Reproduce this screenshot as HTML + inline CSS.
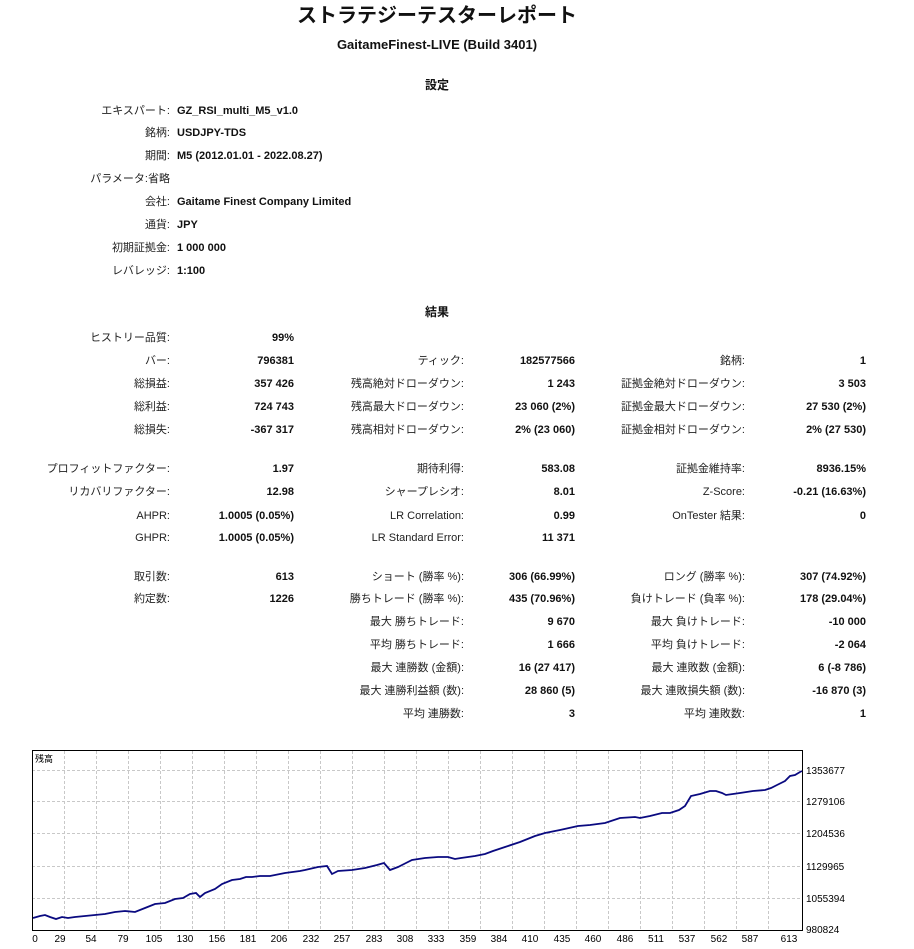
<!DOCTYPE html>
<html><head><meta charset="utf-8">
<style>
body{margin:0;width:914px;height:949px;background:#fff;position:relative;overflow:hidden;font-family:"Liberation Sans","Noto Sans CJK JP",sans-serif;font-size:11px;color:#222}
.t{position:absolute;white-space:nowrap;line-height:14px}
.b{font-weight:bold;color:#111}
.l1{right:744px}.v1{right:620px}
.l2{right:450px}.v2{right:339px}
.l3{right:169px}.v3{right:48px}
</style></head><body>
<div class="t b" style="left:0;width:874px;text-align:center;top:4px;font-size:20px;line-height:24px">ストラテジーテスターレポート</div>
<div class="t b" style="left:0;width:874px;text-align:center;top:38px;font-size:13px">GaitameFinest-LIVE (Build 3401)</div>
<div class="t b" style="left:0;width:874px;text-align:center;top:78px;font-size:12px">設定</div>

<div class="t l1" style="top:104px">エキスパート:</div><div class="t b" style="left:177px;top:104px">GZ_RSI_multi_M5_v1.0</div>
<div class="t l1" style="top:126px">銘柄:</div><div class="t b" style="left:177px;top:126px">USDJPY-TDS</div>
<div class="t l1" style="top:149px">期間:</div><div class="t b" style="left:177px;top:149px">M5 (2012.01.01 - 2022.08.27)</div>
<div class="t l1" style="top:172px">パラメータ:省略</div>
<div class="t l1" style="top:195px">会社:</div><div class="t b" style="left:177px;top:195px">Gaitame Finest Company Limited</div>
<div class="t l1" style="top:218px">通貨:</div><div class="t b" style="left:177px;top:218px">JPY</div>
<div class="t l1" style="top:241px">初期証拠金:</div><div class="t b" style="left:177px;top:241px">1 000 000</div>
<div class="t l1" style="top:264px">レバレッジ:</div><div class="t b" style="left:177px;top:264px">1:100</div>

<div class="t b" style="left:0;width:874px;text-align:center;top:305px;font-size:12px">結果</div>

<div class="t l1" style="top:331px">ヒストリー品質:</div><div class="t b v1" style="top:331px">99%</div>
<div class="t l1" style="top:354px">バー:</div><div class="t b v1" style="top:354px">796381</div>
<div class="t l2" style="top:354px">ティック:</div><div class="t b v2" style="top:354px">182577566</div>
<div class="t l3" style="top:354px">銘柄:</div><div class="t b v3" style="top:354px">1</div>
<div class="t l1" style="top:377px">総損益:</div><div class="t b v1" style="top:377px">357 426</div>
<div class="t l2" style="top:377px">残高絶対ドローダウン:</div><div class="t b v2" style="top:377px">1 243</div>
<div class="t l3" style="top:377px">証拠金絶対ドローダウン:</div><div class="t b v3" style="top:377px">3 503</div>
<div class="t l1" style="top:400px">総利益:</div><div class="t b v1" style="top:400px">724 743</div>
<div class="t l2" style="top:400px">残高最大ドローダウン:</div><div class="t b v2" style="top:400px">23 060 (2%)</div>
<div class="t l3" style="top:400px">証拠金最大ドローダウン:</div><div class="t b v3" style="top:400px">27 530 (2%)</div>
<div class="t l1" style="top:423px">総損失:</div><div class="t b v1" style="top:423px">-367 317</div>
<div class="t l2" style="top:423px">残高相対ドローダウン:</div><div class="t b v2" style="top:423px">2% (23 060)</div>
<div class="t l3" style="top:423px">証拠金相対ドローダウン:</div><div class="t b v3" style="top:423px">2% (27 530)</div>

<div class="t l1" style="top:462px">プロフィットファクター:</div><div class="t b v1" style="top:462px">1.97</div>
<div class="t l2" style="top:462px">期待利得:</div><div class="t b v2" style="top:462px">583.08</div>
<div class="t l3" style="top:462px">証拠金維持率:</div><div class="t b v3" style="top:462px">8936.15%</div>
<div class="t l1" style="top:485px">リカバリファクター:</div><div class="t b v1" style="top:485px">12.98</div>
<div class="t l2" style="top:485px">シャープレシオ:</div><div class="t b v2" style="top:485px">8.01</div>
<div class="t l3" style="top:485px">Z-Score:</div><div class="t b v3" style="top:485px">-0.21 (16.63%)</div>
<div class="t l1" style="top:509px">AHPR:</div><div class="t b v1" style="top:509px">1.0005 (0.05%)</div>
<div class="t l2" style="top:509px">LR Correlation:</div><div class="t b v2" style="top:509px">0.99</div>
<div class="t l3" style="top:509px">OnTester 結果:</div><div class="t b v3" style="top:509px">0</div>
<div class="t l1" style="top:531px">GHPR:</div><div class="t b v1" style="top:531px">1.0005 (0.05%)</div>
<div class="t l2" style="top:531px">LR Standard Error:</div><div class="t b v2" style="top:531px">11 371</div>

<div class="t l1" style="top:570px">取引数:</div><div class="t b v1" style="top:570px">613</div>
<div class="t l2" style="top:570px">ショート (勝率 %):</div><div class="t b v2" style="top:570px">306 (66.99%)</div>
<div class="t l3" style="top:570px">ロング (勝率 %):</div><div class="t b v3" style="top:570px">307 (74.92%)</div>
<div class="t l1" style="top:592px">約定数:</div><div class="t b v1" style="top:592px">1226</div>
<div class="t l2" style="top:592px">勝ちトレード (勝率 %):</div><div class="t b v2" style="top:592px">435 (70.96%)</div>
<div class="t l3" style="top:592px">負けトレード (負率 %):</div><div class="t b v3" style="top:592px">178 (29.04%)</div>
<div class="t l2" style="top:615px">最大 勝ちトレード:</div><div class="t b v2" style="top:615px">9 670</div>
<div class="t l3" style="top:615px">最大 負けトレード:</div><div class="t b v3" style="top:615px">-10 000</div>
<div class="t l2" style="top:638px">平均 勝ちトレード:</div><div class="t b v2" style="top:638px">1 666</div>
<div class="t l3" style="top:638px">平均 負けトレード:</div><div class="t b v3" style="top:638px">-2 064</div>
<div class="t l2" style="top:661px">最大 連勝数 (金額):</div><div class="t b v2" style="top:661px">16 (27 417)</div>
<div class="t l3" style="top:661px">最大 連敗数 (金額):</div><div class="t b v3" style="top:661px">6 (-8 786)</div>
<div class="t l2" style="top:684px">最大 連勝利益額 (数):</div><div class="t b v2" style="top:684px">28 860 (5)</div>
<div class="t l3" style="top:684px">最大 連敗損失額 (数):</div><div class="t b v3" style="top:684px">-16 870 (3)</div>
<div class="t l2" style="top:707px">平均 連勝数:</div><div class="t b v2" style="top:707px">3</div>
<div class="t l3" style="top:707px">平均 連敗数:</div><div class="t b v3" style="top:707px">1</div>

<svg style="position:absolute;left:0;top:0" width="914" height="949">
<g stroke="#c8c8c8" stroke-dasharray="3,2" stroke-width="1">
<line x1="32" x2="802" y1="770.5" y2="770.5"/><line x1="32" x2="802" y1="801.5" y2="801.5"/>
<line x1="32" x2="802" y1="833.5" y2="833.5"/><line x1="32" x2="802" y1="866.5" y2="866.5"/>
<line x1="32" x2="802" y1="898.5" y2="898.5"/>
<line y1="751" y2="930" x1="64.5" x2="64.5"/><line y1="751" y2="930" x1="96.5" x2="96.5"/>
<line y1="751" y2="930" x1="128.5" x2="128.5"/><line y1="751" y2="930" x1="160.5" x2="160.5"/>
<line y1="751" y2="930" x1="192.5" x2="192.5"/><line y1="751" y2="930" x1="224.5" x2="224.5"/>
<line y1="751" y2="930" x1="256.5" x2="256.5"/><line y1="751" y2="930" x1="288.5" x2="288.5"/>
<line y1="751" y2="930" x1="320.5" x2="320.5"/><line y1="751" y2="930" x1="352.5" x2="352.5"/>
<line y1="751" y2="930" x1="384.5" x2="384.5"/><line y1="751" y2="930" x1="416.5" x2="416.5"/>
<line y1="751" y2="930" x1="448.5" x2="448.5"/><line y1="751" y2="930" x1="480.5" x2="480.5"/>
<line y1="751" y2="930" x1="512.5" x2="512.5"/><line y1="751" y2="930" x1="544.5" x2="544.5"/>
<line y1="751" y2="930" x1="576.5" x2="576.5"/><line y1="751" y2="930" x1="608.5" x2="608.5"/>
<line y1="751" y2="930" x1="640.5" x2="640.5"/><line y1="751" y2="930" x1="672.5" x2="672.5"/>
<line y1="751" y2="930" x1="704.5" x2="704.5"/><line y1="751" y2="930" x1="736.5" x2="736.5"/>
<line y1="751" y2="930" x1="768.5" x2="768.5"/>
</g>
<rect x="32.5" y="750.5" width="770" height="180" fill="none" stroke="#000"/>
<text x="35" y="762" font-size="9" fill="#000" font-family="Liberation Sans,Noto Sans CJK JP,sans-serif">残高</text>
<polyline fill="none" stroke="#0a0a80" stroke-width="1.8" points="33,918 40,916 45,915 50,917 56,919 62,917 68,918 75,917 85,916 95,915 105,914 115,912 125,911 135,912 145,908 155,904 165,903 175,899 183,898 190,894 196,893 200,897 205,893 215,889 222,884 232,880 240,879 246,877 252,877 260,876 270,876 285,873 300,871 305,870 318,867 327,866 332,874 338,871 352,870 365,868 377,865 384,863 390,870 398,867 404,864 412,860 425,858 438,857 448,857 455,859 461,858 475,856 485,854 493,851 505,847 520,842 535,836 545,833 560,830 578,826 590,825 605,823 620,818 635,817 640,818 650,816 662,813 670,813 679,810 685,806 691,796 700,794 710,791 716,791 722,793 726,795 740,793 753,791 765,790 771,788 777,785 785,781 790,776 795,775 800,772 802,771"/>
<g font-size="10" fill="#000" font-family="Liberation Sans,sans-serif">
<text x="806" y="774">1353677</text><text x="806" y="805">1279106</text><text x="806" y="837">1204536</text>
<text x="806" y="870">1129965</text><text x="806" y="902">1055394</text><text x="806" y="933">980824</text>
</g>
<g font-size="10" fill="#000" font-family="Liberation Sans,sans-serif" text-anchor="middle">
<text x="35" y="942">0</text><text x="60" y="942">29</text><text x="91" y="942">54</text><text x="123" y="942">79</text>
<text x="154" y="942">105</text><text x="185" y="942">130</text><text x="217" y="942">156</text><text x="248" y="942">181</text>
<text x="279" y="942">206</text><text x="311" y="942">232</text><text x="342" y="942">257</text><text x="374" y="942">283</text>
<text x="405" y="942">308</text><text x="436" y="942">333</text><text x="468" y="942">359</text><text x="499" y="942">384</text>
<text x="530" y="942">410</text><text x="562" y="942">435</text><text x="593" y="942">460</text><text x="625" y="942">486</text>
<text x="656" y="942">511</text><text x="687" y="942">537</text><text x="719" y="942">562</text><text x="750" y="942">587</text>
<text x="789" y="942">613</text>
</g>
</svg>
</body></html>
